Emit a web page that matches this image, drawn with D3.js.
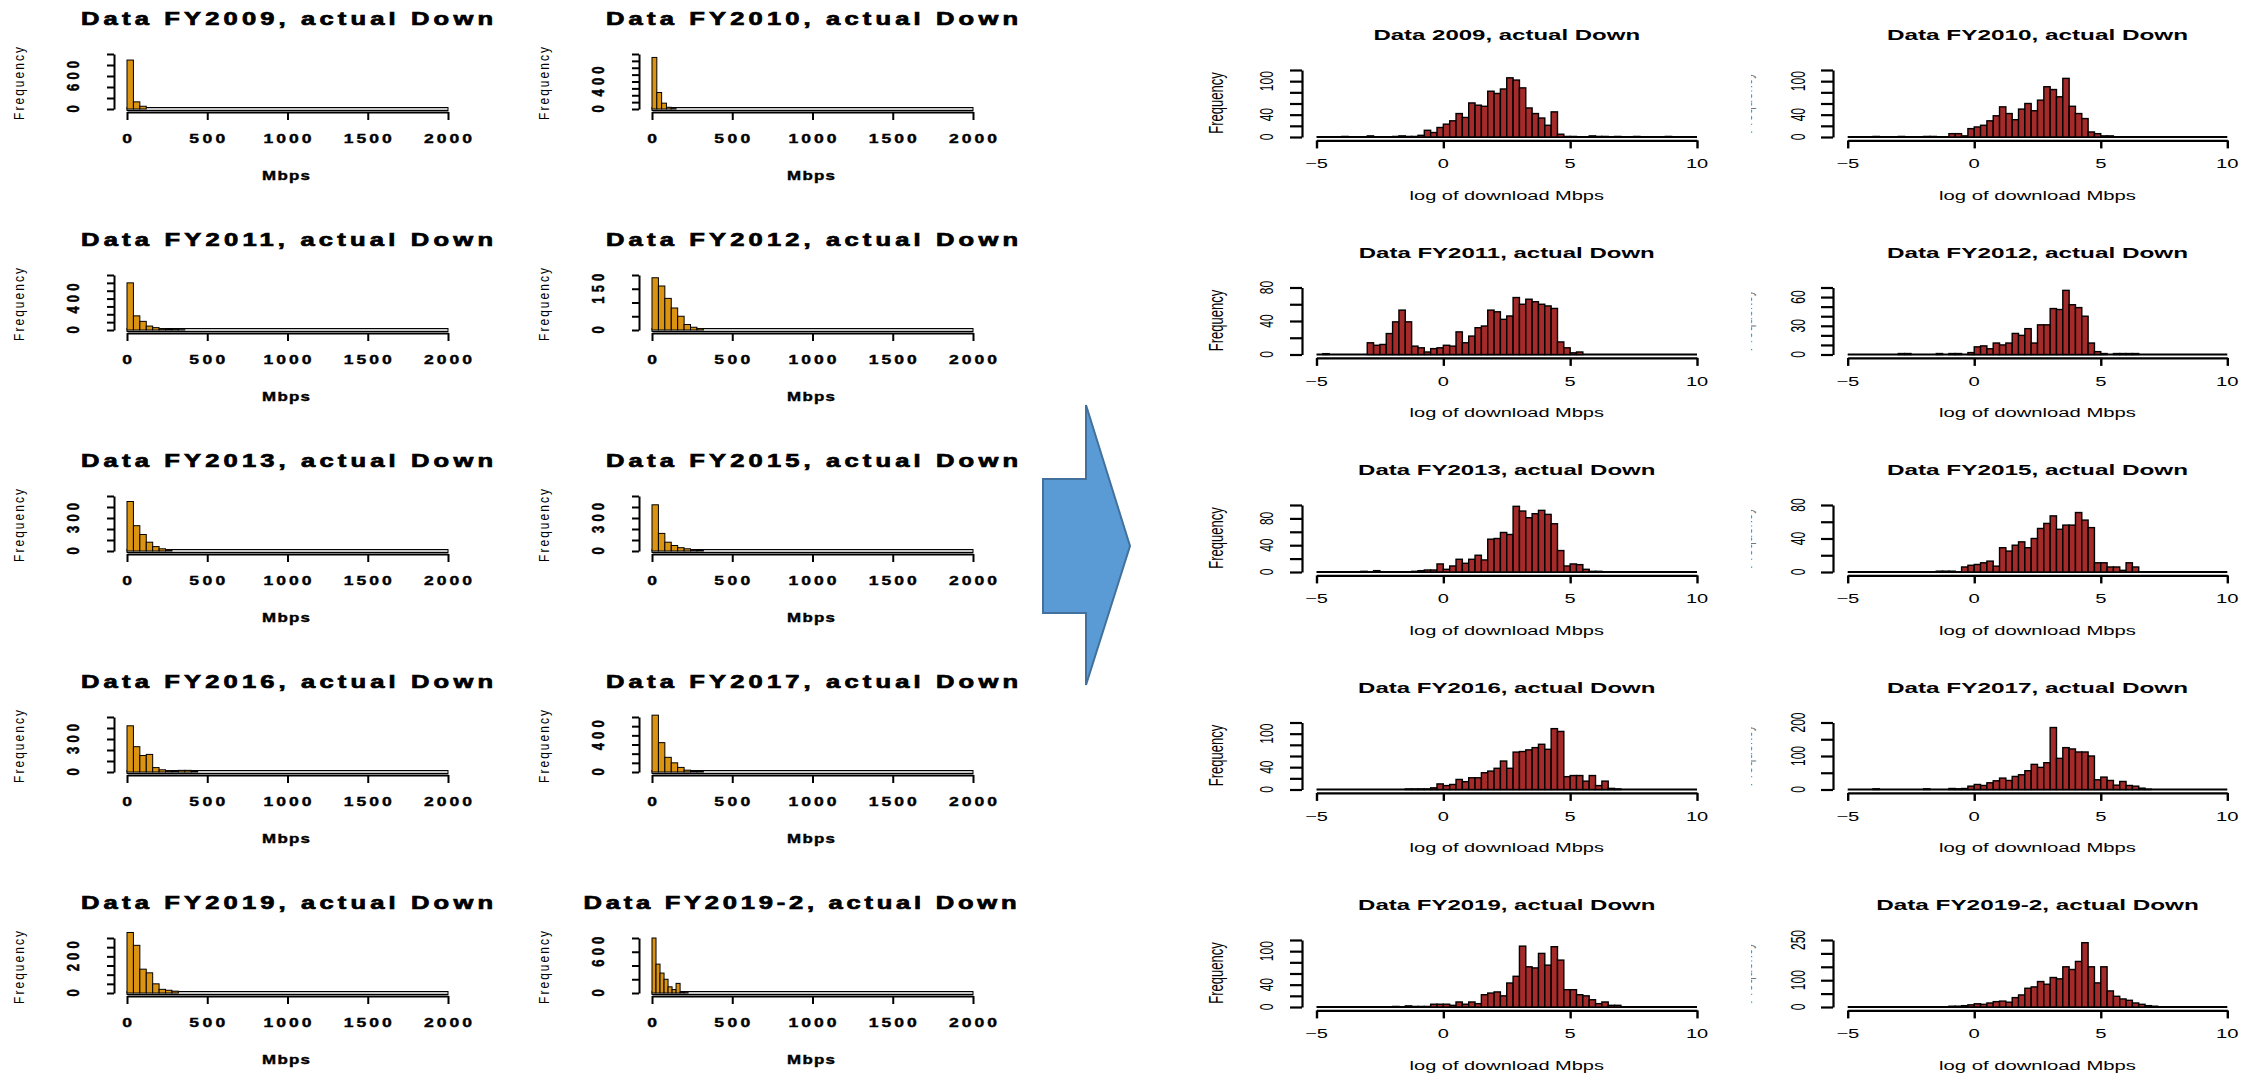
<!DOCTYPE html>
<html>
<head>
<meta charset="utf-8">
<script src="https://cdn.jsdelivr.net/npm/d3@7"></script>
<style>
  body { margin: 0; background: #fff; }
  svg { display: block; }
</style>
</head>
<body>
<svg id="chart"></svg>
<script>
// ---------- Left block: raw Mbps histograms ----------
var leftTitles = [
    "Data FY2009, actual Down", "Data FY2010, actual Down",
    "Data FY2011, actual Down", "Data FY2012, actual Down",
    "Data FY2013, actual Down", "Data FY2015, actual Down",
    "Data FY2016, actual Down", "Data FY2017, actual Down",
    "Data FY2019, actual Down", "Data FY2019-2, actual Down"
];
var leftBinWidth = [40, 30, 40, 40, 40, 40, 40, 40, 40, 25];
var leftCounts = [
    [890, 130, 50],
    [750, 240, 85, 25, 5],
    [600, 180, 110, 50, 30, 15, 10, 5, 3],
    [190, 160, 115, 80, 50, 20, 10, 5],
    [450, 230, 150, 80, 40, 20, 10],
    [420, 160, 80, 50, 30, 20, 10, 5],
    [420, 230, 150, 160, 40, 20, 10, 5, 15, 15, 5],
    [620, 320, 160, 100, 50, 20, 10, 5],
    [330, 260, 130, 110, 50, 20, 15, 10],
    [800, 420, 290, 200, 90, 50, 140, 15, 5]
];
var leftYTicks = [
    [0, 200, 400, 600, 800, 1000],
    [0, 100, 200, 300, 400, 500, 600, 700, 800],
    [0, 100, 200, 300, 400, 500, 600, 700],
    [0, 50, 100, 150, 200],
    [0, 100, 200, 300, 400, 500],
    [0, 100, 200, 300, 400, 500],
    [0, 100, 200, 300, 400, 500],
    [0, 100, 200, 300, 400, 500, 600],
    [0, 50, 100, 150, 200, 250, 300],
    [0, 200, 400, 600, 800]
];
var leftYLabels = [[0, 600], [0, 400], [0, 400], [0, 150], [0, 300],
                   [0, 300], [0, 300], [0, 400], [0, 200], [0, 600]];
var mbpsTicks = [0, 500, 1000, 1500, 2000];

// ---------- Right block: log(Mbps) histograms, bins of 0.25 from -5 ----------
var rightTitles = [
    "Data 2009, actual Down", "Data FY2010, actual Down",
    "Data FY2011, actual Down", "Data FY2012, actual Down",
    "Data FY2013, actual Down", "Data FY2015, actual Down",
    "Data FY2016, actual Down", "Data FY2017, actual Down",
    "Data FY2019, actual Down", "Data FY2019-2, actual Down"
];
var logBinStart = -5, logBinWidth = 0.25;
var rightCounts = [
    [0,0,0,0,1,0,0,0,2,0, 0,0,1,2,1,1,3,12,8,17, 23,29,42,35,61,57,55,82,78,86, 106,102,88,52,42,34,21,45,5,1, 1,0,0,2,1,1,0,1,0,0, 1,0,0,0,0,1,0,0,0,0],
    [0,0,0,0,1,0,0,0,1,0, 0,0,1,1,0,0,6,6,2,15, 18,21,29,38,54,42,31,50,60,47, 66,90,85,72,105,55,42,33,9,6, 2,2,0,0,0,0,0,0,0,0, 0,0,0,0,0,0,0,0,0,0],
    [0,1,0,0,0,0,0,0,14,11, 12,25,39,53,39,10,8,3,7,8, 11,10,27,14,22,32,34,53,51,42, 46,68,60,66,63,60,58,55,15,8, 2,3,0,0,0,0,0,0,0,0, 0,0,0,0,0,0,0,0,0,0],
    [0,0,0,0,0,0,0,0,1,1, 0,0,0,0,1,0,1,1,0,2, 8,9,6,12,10,12,22,20,27,12, 31,31,48,47,67,52,49,40,12,3, 1,0,1,1,1,1,0,0,0,0, 0,0,0,0,0,0,0,0,0,0],
    [0,0,0,0,0,0,0,1,0,2, 0,0,0,0,0,1,2,3,3,12, 4,9,19,13,19,25,18,49,50,59, 56,98,91,81,87,92,86,72,32,9, 12,11,4,1,1,0,0,0,0,0, 0,0,0,0,0,0,0,0,0,0],
    [0,0,0,0,0,0,0,0,0,0, 0,0,0,0,1,1,1,0,6,8, 9,11,13,7,29,25,32,36,29,40, 52,58,67,51,56,56,71,62,53,11, 11,6,6,2,11,6,0,0,0,0, 0,0,0,0,0,0,0,0,0,0],
    [0,0,0,0,0,0,0,0,0,0, 0,0,0,0,1,1,1,1,3,10, 7,9,18,14,21,21,30,33,38,51, 38,67,68,71,75,81,72,109,104,23, 25,25,15,25,7,15,2,1,0,0, 0,0,0,0,0,0,0,0,0,0],
    [0,0,0,0,2,0,0,0,0,0, 0,0,2,0,0,0,3,2,3,10, 15,12,20,26,34,27,39,44,56,75, 66,80,185,93,125,121,112,112,100,29, 37,27,13,24,12,10,4,1,0,0, 0,0,0,0,0,0,0,0,0,0],
    [0,0,0,0,0,0,0,0,0,0, 0,0,1,0,2,1,1,1,5,5, 5,3,9,5,9,6,22,25,27,20, 43,55,109,72,70,96,75,108,84,31, 31,22,20,13,6,9,3,3,0,0, 0,0,0,0,0,0,0,0,0,0],
    [0,0,0,0,0,0,0,0,0,0, 0,0,0,0,0,0,3,3,5,8, 12,10,15,20,22,18,35,45,70,75, 95,85,110,105,150,140,170,240,150,90, 150,60,40,30,25,15,10,5,3,0, 0,0,0,0,0,0,0,0,0,0]
];
var rightYTicks = [
    [0, 20, 40, 60, 80, 100, 120],
    [0, 20, 40, 60, 80, 100, 120],
    [0, 20, 40, 60, 80],
    [0, 10, 20, 30, 40, 50, 60, 70],
    [0, 20, 40, 60, 80, 100],
    [0, 20, 40, 60, 80],
    [0, 20, 40, 60, 80, 100, 120],
    [0, 50, 100, 150, 200],
    [0, 20, 40, 60, 80, 100, 120],
    [0, 50, 100, 150, 200, 250]
];
var rightYLabels = [[0, 40, 100], [0, 40, 100], [0, 40, 80], [0, 30, 60], [0, 40, 80],
                    [0, 40, 80], [0, 40, 100], [0, 100, 200], [0, 40, 100], [0, 100, 250]];
var logTicks = [-5, 0, 5, 10];


// ---------- Setup ----------
const W = 2241, H = 1075;
const svg = d3.select("#chart").attr("width", W).attr("height", H);
svg.append("rect").attr("width", W).attr("height", H).attr("fill", "#fff");

const defs = svg.append("defs");
defs.append("clipPath").attr("id", "leftClip")
    .append("rect").attr("x", 0).attr("y", 0).attr("width", 1019).attr("height", H);
defs.append("clipPath").attr("id", "remnantClip")
    .append("rect").attr("x", 1751).attr("y", 0).attr("width", 40).attr("height", H);

const font = "'Liberation Sans', Arial, Helvetica, sans-serif";

// Chunky, wide-spaced text for the low-res left screenshots
var ltext = function(g, str, x, y, o) {
    var t = g.append("text")
        .attr("transform", `translate(${x},${y}) scale(${o.sx || 1},1)` + (o.rot ? " rotate(-90)" : ""))
        .attr("text-anchor", "middle")
        .attr("dy", "0.36em")
        .style("font-family", font)
        .style("font-size", o.fs + "px")
        .style("font-weight", o.bold ? "bold" : "normal")
        .attr("fill", "#000")
        .text(str);
    if (o.bold) t.attr("stroke", "#000").attr("stroke-width", o.sw || 0.5);
    if (o.width && str.length > 1) {
        const len = o.rot ? o.width : o.width / (o.sx || 1);
        t.attr("textLength", len).attr("lengthAdjust", "spacing");
    }
    return t;
};

// Horizontally stretched text for the right screenshots
var rtext = function(g, str, x, y, o) {
    return g.append("text")
        .attr("transform", `translate(${x},${y}) scale(${o.sx},1)` + (o.rot ? " rotate(-90)" : ""))
        .attr("text-anchor", "middle")
        .attr("dy", o.dy === undefined ? "0.36em" : o.dy)
        .style("font-family", font)
        .style("font-size", o.fs + "px")
        .style("font-weight", o.bold ? "bold" : "normal")
        .attr("fill", o.fill || "#000")
        .text(str);
};


// ---------- Left panels ----------
const leftG = svg.append("g").attr("clip-path", "url(#leftClip)");

leftTitles.forEach(function(title, i) {
    const col = i % 2, row = Math.floor(i / 2);
    const dx = col * 525;
    const base = 109 + row * 221;
    const g = leftG.append("g");

    const x = d3.scaleLinear().domain([0, 2000]).range([127 + dx, 448 + dx]);
    const ticks = leftYTicks[i];
    const y = d3.scaleLinear().domain([0, ticks[ticks.length - 1]]).range([base, base - 55]);

    // bins
    const bw = leftBinWidth[i];
    const bins = d3.range(0, 2000 / bw).map(function(k) {
        return {x0: k * bw, x1: (k + 1) * bw, n: leftCounts[i][k] || 0};
    });

    // baseline of the empty bins
    g.append("rect")
        .attr("x", x(0)).attr("y", base - 1.5)
        .attr("width", x(2000) - x(0)).attr("height", 3)
        .attr("fill", "#c8c8c8").attr("stroke", "#000").attr("stroke-width", 1);

    g.selectAll(".lbar")
        .data(bins.filter(function(d) { return d.n > 0; }))
        .join("rect")
        .attr("class", "lbar")
        .attr("x", function(d) { return x(d.x0); })
        .attr("y", function(d) { return y(d.n); })
        .attr("width", function(d) { return x(d.x1) - x(d.x0); })
        .attr("height", function(d) { return base - y(d.n); })
        .attr("fill", "#db9312")
        .attr("stroke", "#000")
        .attr("stroke-width", 1);

    // x axis
    const xAxis = g.append("g")
        .attr("transform", `translate(0,${base + 3})`)
        .call(d3.axisBottom(x).tickValues(mbpsTicks).tickSize(8).tickSizeOuter(0).tickFormat(""));
    xAxis.selectAll("path, line").attr("stroke", "#000").attr("stroke-width", 2);

    mbpsTicks.forEach(function(v) {
        const s = String(v);
        ltext(g, s, x(v), base + 29.5, {fs: 13.5, bold: true, sx: 1.3, sw: 0.4, width: s.length * 12});
    });

    // y axis
    const yAxis = g.append("g")
        .attr("transform", `translate(${114 + dx},0)`)
        .call(d3.axisLeft(y).tickValues(ticks).tickSize(7).tickSizeOuter(0).tickFormat(""));
    yAxis.selectAll("path, line").attr("stroke", "#000").attr("stroke-width", 2);

    leftYLabels[i].forEach(function(v) {
        const s = String(v);
        ltext(g, s, 73 + dx, y(v), {fs: 13, bold: true, sx: 1.3, sw: 0.4, rot: true, width: s.length * 10});
    });

    // titles
    const long = title.length > 24;
    ltext(g, title, (long ? 275 : 287) + dx, base - 90.5,
          {fs: 18, bold: true, sx: 1.42, sw: 0.7, width: long ? 433 : 412});
    ltext(g, "Frequency", 19 + dx, base - 25.5, {fs: 12, bold: false, sx: 1.15, rot: true, width: 73});
    ltext(g, "Mbps", 286 + dx, base + 66, {fs: 13, bold: true, sx: 1.3, sw: 0.4, width: 48});
});


// ---------- Arrow ----------
const arrowPts = [[1043, 479], [1086, 479], [1086, 405], [1130, 546],
                  [1086, 685], [1086, 613], [1043, 613]];
svg.append("polygon")
    .attr("points", arrowPts.map(function(p) { return p.join(","); }).join(" "))
    .attr("fill", "#5b9bd5")
    .attr("stroke", "#41719c")
    .attr("stroke-width", 2);


// ---------- Right panels ----------
const rightCols = [
    {x0: 1316.5, x1: 1697, axisX: 1302, labX: 1266, freqX: 1216, sx: 1.6},
    {x0: 1847.7, x1: 2227.3, axisX: 1833, labX: 1798, freqX: 1752, sx: 1.62}
];
const base0 = 137, rowStep = 217.5, plotH = 67;

rightTitles.forEach(function(title, i) {
    const c = rightCols[i % 2], row = Math.floor(i / 2);
    const base = base0 + row * rowStep;
    const g = svg.append("g");

    const x = d3.scaleLinear().domain([-5, 10]).range([c.x0, c.x1]);
    const ticks = rightYTicks[i];
    const y = d3.scaleLinear().domain([0, ticks[ticks.length - 1]]).range([base, base - plotH]);

    const bins = rightCounts[i].map(function(n, k) {
        const x0 = logBinStart + k * logBinWidth;
        return {x0: x0, x1: x0 + logBinWidth, n: n};
    });

    // empty-bin baseline
    g.append("line")
        .attr("x1", x(-5)).attr("x2", x(10))
        .attr("y1", base).attr("y2", base)
        .attr("stroke", "#000").attr("stroke-width", 2.2);

    g.selectAll(".rbar")
        .data(bins.filter(function(d) { return d.n > 0; }))
        .join("rect")
        .attr("class", "rbar")
        .attr("x", function(d) { return x(d.x0); })
        .attr("y", function(d) { return y(d.n); })
        .attr("width", function(d) { return x(d.x1) - x(d.x0); })
        .attr("height", function(d) { return base - y(d.n); })
        .attr("fill", "#a52a2a")
        .attr("stroke", "#000")
        .attr("stroke-width", 1.4);

    // x axis
    const xAxis = g.append("g")
        .attr("transform", `translate(0,${base + 3.4})`)
        .call(d3.axisBottom(x).tickValues(logTicks).tickSize(8).tickSizeOuter(0).tickFormat(""));
    xAxis.selectAll("path, line").attr("stroke", "#000").attr("stroke-width", 2.4);

    logTicks.forEach(function(v) {
        rtext(g, v < 0 ? "\u2212" + Math.abs(v) : String(v), x(v), base + 26.5, {fs: 12.5, sx: c.sx});
    });

    // y axis
    const yAxis = g.append("g")
        .attr("transform", `translate(${c.axisX},0)`)
        .call(d3.axisLeft(y).tickValues(ticks).tickSize(12).tickSizeOuter(0).tickFormat(""));
    yAxis.selectAll("path, line").attr("stroke", "#000").attr("stroke-width", 2.2);

    rightYLabels[i].forEach(function(v) {
        rtext(g, String(v), c.labX, y(v), {fs: 12, sx: c.sx, rot: true});
    });

    // labels
    rtext(g, title, (c.x0 + c.x1) / 2, base - 102, {fs: 15, sx: c.sx, bold: true});
    rtext(g, "log of download Mbps", (c.x0 + c.x1) / 2, base + 58, {fs: 12.5, sx: c.sx});
    if (i % 2 === 0) {
        rtext(g, "Frequency", c.freqX, base - 34, {fs: 13, sx: c.sx, rot: true});
    } else {
        // only a sliver of this label survives in the source picture
        rtext(g.append("g").attr("clip-path", "url(#remnantClip)"), "Frequency",
              c.freqX, base - 34, {fs: 13, sx: c.sx, rot: true, dy: "0em", fill: "#777"});
    }
});
</script>
</body>
</html>
